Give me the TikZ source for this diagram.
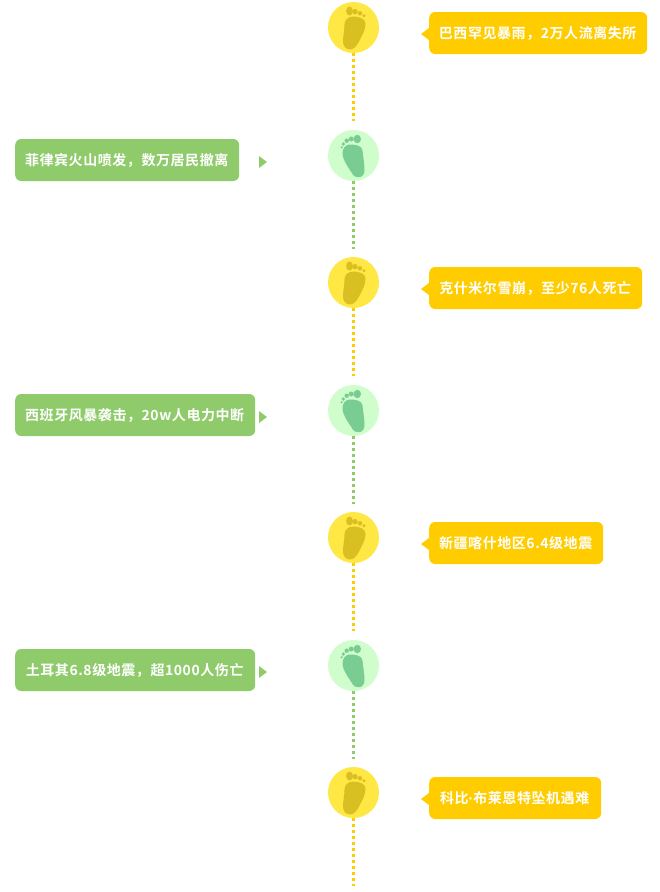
\documentclass[tikz,border=0pt]{standalone}
\usepackage{fontspec}
\newfontfamily\cjk{Noto Sans CJK SC}[BoldFont={* Bold},LetterSpace=4]
\newfontfamily\latn{Liberation Sans}
\definecolor{yel}{HTML}{FFCC00}
\definecolor{grn}{HTML}{8FCB6B}
\definecolor{ycirc}{HTML}{FFE744}
\definecolor{gcirc}{HTML}{CFFDCB}
\definecolor{yfoot}{HTML}{DABF22}
\definecolor{gfoot}{HTML}{79CC92}
\tikzset{
 x=1pt,y=-1pt,
 lab/.style={rounded corners=6pt,minimum height=42pt,inner sep=0pt,text=white,font=\cjk\bfseries\fontsize{14}{14}\selectfont,anchor=west},
 ylab/.style={lab,fill=yel},
 glab/.style={lab,fill=grn},
 ylink/.style={draw=yel,line width=3pt,dash pattern=on 3pt off 3pt},
 glink/.style={draw=grn,line width=3pt,dash pattern=on 3pt off 3pt},
 ydisc/.style={circle,fill=ycirc,minimum size=51pt,inner sep=0pt},
 gdisc/.style={circle,fill=gcirc,minimum size=51pt,inner sep=0pt},
}
\newcommand{\ltxt}[1]{\hspace*{-1pt}\raisebox{-1pt}{#1}}
\newcommand{\yfoot}[1]{%
 \begin{scope}[shift={(#1)}]
 \fill[yfoot] (0,-11) .. controls (5,-11) and (12,-9) .. (12,-4) .. controls (12,3) and (8.5,8) .. (5.5,14) .. controls (3,19) and (0,22) .. (-3.5,22) .. controls (-8,22) and (-10.5,18) .. (-10.5,14) .. controls (-10.5,8) and (-9,3) .. (-9,-3) .. controls (-9,-8) and (-5,-11) .. (0,-11) -- cycle;
 \fill[yfoot] (-4,-16.5) ellipse (3.4pt and 4.5pt);
 \fill[yfoot] (1.5,-15.8) circle (2.7pt) (6.5,-14.2) circle (2.2pt) (10.5,-11.8) circle (1.6pt);
 \end{scope}}
\newcommand{\gfoot}[1]{%
 \begin{scope}[shift={(#1)}]
 \fill[gfoot] (-3.5,-11) .. controls (2,-11) and (8.5,-10) .. (9,-5) .. controls (9.5,1) and (11,8) .. (11,14.5) .. controls (11,19) and (8.5,21.7) .. (5,21.7) .. controls (2,21.7) and (0.5,21) .. (-1,18.5) .. controls (-3.5,14) and (-11,5) .. (-11,-2.2) .. controls (-11,-7) and (-8,-11) .. (-3.5,-11) -- cycle;
 \fill[gfoot] (3.8,-16.5) ellipse (3.7pt and 4.2pt);
 \fill[gfoot] (-2.2,-16.5) circle (2.5pt) (-6.8,-14.8) circle (2.2pt) (-10.2,-11.5) circle (1.8pt) (-11.8,-8.2) circle (1.2pt);
 \end{scope}}
\begin{document}
\begin{tikzpicture}
\useasboundingbox (0,0) rectangle (659,892);
% discs
\node[ydisc] (c1) at (353.5,27.5) {};
\node[gdisc] (c2) at (353.5,155.5) {};
\node[ydisc] (c3) at (353.5,282.5) {};
\node[gdisc] (c4) at (353.5,410.5) {};
\node[ydisc] (c5) at (353.5,537.5) {};
\node[gdisc] (c6) at (353.5,665.5) {};
\node[ydisc] (c7) at (353.5,792.5) {};
\coordinate (e1) at (353.5,121);
\coordinate (e2) at (353.5,249);
\coordinate (e3) at (353.5,376);
\coordinate (e4) at (353.5,504);
\coordinate (e5) at (353.5,631);
\coordinate (e6) at (353.5,759);
\coordinate (e7) at (353.5,886);
\draw[ylink] (c1.south) -- (e1);
\draw[glink] (c2.south) -- (e2);
\draw[ylink] (c3.south) -- (e3);
\draw[glink] (c4.south) -- (e4);
\draw[ylink] (c5.south) -- (e5);
\draw[glink] (c6.south) -- (e6);
\draw[ylink] (c7.south) -- (e7);
\yfoot{353.5,27.5}\gfoot{353.5,155.5}\yfoot{353.5,282.5}\gfoot{353.5,410.5}\yfoot{353.5,537.5}\gfoot{353.5,665.5}\yfoot{353.5,792.5}
% labels
\node[ylab,minimum width=218pt] (l1) at (429,33) {\ltxt{巴西罕见暴雨，2万人流离失所}};
\node[glab,minimum width=224pt] (l2) at (15,160) {\ltxt{菲律宾火山喷发，数万居民撤离}};
\node[ylab,minimum width=213pt] (l3) at (429,288) {\ltxt{克什米尔雪崩，至少76人死亡}};
\node[glab,minimum width=240pt] (l4) at (15,415) {\ltxt{西班牙风暴袭击，20w人电力中断}};
\node[ylab,minimum width=174pt] (l5) at (429,543) {\ltxt{新疆喀什地区6.4级地震}};
\node[glab,minimum width=240pt] (l6) at (15,670) {\ltxt{土耳其6.8级地震，超1000人伤亡}};
\node[ylab,minimum width=172pt] (l7) at (429,798) {\ltxt{科比{\latn\bfseries ·}布莱恩特坠机遇难}};
% pointers
\fill[yel] (421,34) -- (429,28) -- (429,40) -- cycle;
\fill[yel] (421,289) -- (429,283) -- (429,295) -- cycle;
\fill[yel] (421,544) -- (429,538) -- (429,550) -- cycle;
\fill[yel] (421,799) -- (429,793) -- (429,805) -- cycle;
\fill[grn] (267,162) -- (259,156) -- (259,168) -- cycle;
\fill[grn] (267,417) -- (259,411) -- (259,423) -- cycle;
\fill[grn] (267,672) -- (259,666) -- (259,678) -- cycle;
\end{tikzpicture}
\end{document}
